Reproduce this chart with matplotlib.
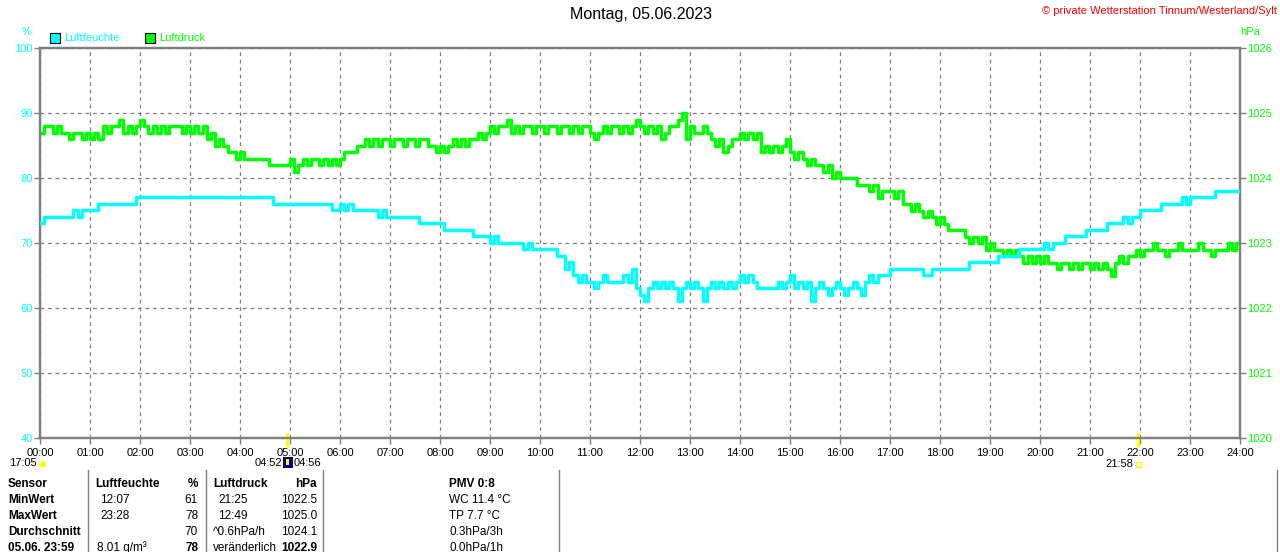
import matplotlib
matplotlib.use("Agg")
import matplotlib.pyplot as plt
import numpy as np
from matplotlib.lines import Line2D
from matplotlib.patches import Rectangle, Wedge

plt.rcParams['font.family'] = ['Liberation Sans', 'DejaVu Sans']

# ---------------- data ----------------
title = "Montag, 05.06.2023"
copyright_text = "\u00a9 private Wetterstation Tinnum/Westerland/Sylt"
hour_labels = ["%02d:00" % h for h in range(25)]
hum_ticks = [40, 50, 60, 70, 80, 90, 100]
pres_ticks = [1020, 1021, 1022, 1023, 1024, 1025, 1026]

# 5-minute samples from 00:00 to 24:00 (12 per hour + final)
humidity = [
    73, 74, 74, 74, 74, 74, 74, 74, 75, 74, 75, 75,
    75, 75, 76, 76, 76, 76, 76, 76, 76, 76, 76, 77,
    77, 77, 77, 77, 77, 77, 77, 77, 77, 77, 77, 77,
    77, 77, 77, 77, 77, 77, 77, 77, 77, 77, 77, 77,
    77, 77, 77, 77, 77, 77, 77, 77, 76, 76, 76, 76,
    76, 76, 76, 76, 76, 76, 76, 76, 76, 76, 75, 75,
    76, 75, 76, 75, 75, 75, 75, 75, 75, 74, 75, 74,
    74, 74, 74, 74, 74, 74, 74, 73, 73, 73, 73, 73,
    73, 72, 72, 72, 72, 72, 72, 72, 71, 71, 71, 71,
    70, 71, 70, 70, 70, 70, 70, 70, 69, 70, 69, 69,
    69, 69, 69, 69, 68, 68, 66, 67, 65, 64, 65, 64,
    64, 63, 64, 65, 64, 64, 64, 64, 65, 64, 66, 63,
    62, 61, 63, 64, 63, 64, 63, 64, 63, 61, 63, 64,
    63, 64, 63, 61, 63, 64, 63, 64, 63, 64, 63, 64,
    65, 64, 65, 64, 63, 63, 63, 63, 63, 64, 63, 64,
    65, 63, 64, 63, 64, 61, 63, 64, 63, 62, 63, 64,
    63, 62, 63, 64, 63, 62, 64, 65, 64, 65, 65, 65,
    66, 66, 66, 66, 66, 66, 66, 66, 65, 65, 66, 66,
    66, 66, 66, 66, 66, 66, 66, 67, 67, 67, 67, 67,
    67, 67, 68, 68, 68, 68, 68, 69, 69, 69, 69, 69,
    69, 70, 69, 70, 70, 70, 71, 71, 71, 71, 71, 72,
    72, 72, 72, 72, 73, 73, 73, 73, 74, 73, 74, 74,
    75, 75, 75, 75, 75, 76, 76, 76, 76, 76, 77, 76,
    77, 77, 77, 77, 77, 77, 78, 78, 78, 78, 78, 78,
    78,
]

pressure = [
    1024.7, 1024.8, 1024.8, 1024.7, 1024.8, 1024.7, 1024.7, 1024.6, 1024.7, 1024.7, 1024.6, 1024.7,
    1024.6, 1024.7, 1024.6, 1024.8, 1024.7, 1024.8, 1024.8, 1024.9, 1024.7, 1024.8, 1024.7, 1024.8,
    1024.9, 1024.8, 1024.7, 1024.8, 1024.7, 1024.8, 1024.7, 1024.8, 1024.8, 1024.8, 1024.7, 1024.8,
    1024.7, 1024.8, 1024.7, 1024.8, 1024.6, 1024.7, 1024.5, 1024.6, 1024.5, 1024.4, 1024.4, 1024.3,
    1024.4, 1024.3, 1024.3, 1024.3, 1024.3, 1024.3, 1024.3, 1024.2, 1024.2, 1024.2, 1024.2, 1024.2,
    1024.3, 1024.1, 1024.2, 1024.3, 1024.2, 1024.3, 1024.3, 1024.2, 1024.3, 1024.2, 1024.3, 1024.2,
    1024.3, 1024.4, 1024.4, 1024.4, 1024.5, 1024.5, 1024.6, 1024.5, 1024.6, 1024.5, 1024.6, 1024.6,
    1024.5, 1024.6, 1024.6, 1024.5, 1024.6, 1024.6, 1024.5, 1024.6, 1024.6, 1024.5, 1024.5, 1024.4,
    1024.5, 1024.4, 1024.5, 1024.6, 1024.5, 1024.6, 1024.5, 1024.6, 1024.6, 1024.7, 1024.6, 1024.7,
    1024.8, 1024.7, 1024.8, 1024.8, 1024.9, 1024.7, 1024.8, 1024.7, 1024.8, 1024.8, 1024.7, 1024.8,
    1024.8, 1024.7, 1024.8, 1024.8, 1024.7, 1024.8, 1024.8, 1024.7, 1024.8, 1024.7, 1024.8, 1024.8,
    1024.7, 1024.6, 1024.7, 1024.8, 1024.7, 1024.8, 1024.8, 1024.7, 1024.8, 1024.7, 1024.8, 1024.9,
    1024.8, 1024.7, 1024.8, 1024.7, 1024.8, 1024.6, 1024.7, 1024.8, 1024.8, 1024.9, 1025.0, 1024.6,
    1024.8, 1024.7, 1024.7, 1024.8, 1024.7, 1024.6, 1024.5, 1024.6, 1024.4, 1024.5, 1024.6, 1024.6,
    1024.7, 1024.6, 1024.7, 1024.6, 1024.7, 1024.4, 1024.5, 1024.4, 1024.5, 1024.4, 1024.5, 1024.6,
    1024.4, 1024.3, 1024.4, 1024.3, 1024.2, 1024.3, 1024.2, 1024.2, 1024.1, 1024.2, 1024.0, 1024.1,
    1024.0, 1024.0, 1024.0, 1024.0, 1023.9, 1023.9, 1023.9, 1023.8, 1023.9, 1023.7, 1023.8, 1023.8,
    1023.8, 1023.7, 1023.8, 1023.6, 1023.6, 1023.5, 1023.6, 1023.5, 1023.4, 1023.5, 1023.4, 1023.3,
    1023.4, 1023.3, 1023.2, 1023.2, 1023.2, 1023.2, 1023.1, 1023.0, 1023.1, 1023.0, 1023.1, 1022.9,
    1023.0, 1022.9, 1022.9, 1022.8, 1022.9, 1022.8, 1022.9, 1022.8, 1022.7, 1022.8, 1022.7, 1022.8,
    1022.7, 1022.8, 1022.7, 1022.7, 1022.6, 1022.7, 1022.7, 1022.6, 1022.7, 1022.6, 1022.7, 1022.7,
    1022.6, 1022.7, 1022.6, 1022.7, 1022.6, 1022.5, 1022.7, 1022.8, 1022.7, 1022.8, 1022.8, 1022.9,
    1022.8, 1022.9, 1022.9, 1023.0, 1022.9, 1022.9, 1022.8, 1022.9, 1022.9, 1023.0, 1022.9, 1022.9,
    1022.9, 1022.9, 1023.0, 1022.9, 1022.9, 1022.8, 1022.9, 1022.9, 1022.9, 1023.0, 1022.9, 1023.0,
    1022.9,
]
times = np.arange(len(humidity)) / 12.0

# sun / moon event markers
event_marks = [4 + 56 / 60, 21 + 58 / 60]

table_header = ["Sensor", "Luftfeuchte", "%", "Luftdruck", "hPa", "PMV 0:8"]
table_rows = [
    ["MinWert", "12:07", "61", "21:25", "1022.5", "WC 11.4 \u00b0C"],
    ["MaxWert", "23:28", "78", "12:49", "1025.0", "TP 7.7 \u00b0C"],
    ["Durchschnitt", "", "70", "^0.6hPa/h", "1024.1", "0.3hPa/3h"],
    ["05.06. 23:59", "8.01 g/m\u00b3", "78", "ver\u00e4nderlich", "1022.9", "0.0hPa/1h"],
]

# ---------------- style ----------------
CYAN = "#00FFFF"
GREEN = "#00FF00"
GRAY = "#808080"
W, H = 1280, 552

def fx(x):
    return x / W

def fy(y):
    return 1 - y / H

fig = plt.figure(figsize=(12.8, 5.52), dpi=100)
fig.patch.set_facecolor("white")
ax = fig.add_axes([fx(40), fy(438), fx(1240) - fx(40), fy(48) - fy(438)])
ax2 = ax.twinx()

# pressure on the bottom axes (right scale), humidity on top (left scale)
ax.plot(times, pressure, color=GREEN, lw=2.5, drawstyle="steps-post", zorder=3)
ax2.plot(times, humidity, color=CYAN, lw=2.5, drawstyle="steps-post", zorder=3)

ax.set_xlim(0, 24)
ax.set_ylim(1020, 1026)
ax2.set_ylim(40, 100)

ax.set_xticks(range(25))
ax.set_xticklabels(hour_labels, fontsize=8, color="black")
ax.yaxis.tick_right()
ax.set_yticks(pres_ticks)
ax.set_yticklabels([str(v) for v in pres_ticks], fontsize=8, color=GREEN)
ax2.yaxis.tick_left()
ax2.set_yticks(hum_ticks)
ax2.set_yticklabels([str(v) for v in hum_ticks], fontsize=8, color=CYAN)

for a in (ax, ax2):
    a.tick_params(axis="both", length=4, width=1, color=GRAY, pad=1)
    for s in a.spines.values():
        s.set_color(GRAY)
        s.set_linewidth(1.6)
ax.tick_params(axis="x", pad=3)

ax.grid(True, color=GRAY, linestyle=(0, (3, 3)), linewidth=0.9)
ax.set_axisbelow(True)

# texts above the plot
fig.text(fx(641), fy(15), title, ha="center", va="center", fontsize=11.5, color="black")
fig.text(fx(1277), fy(11), copyright_text, ha="right", va="center", fontsize=8, color="red")
fig.text(fx(27), fy(32), "%", ha="center", va="center", fontsize=8, color=CYAN)
fig.text(fx(1250), fy(32), "hPa", ha="center", va="center", fontsize=8, color=GREEN)

fig.patches.append(Rectangle((fx(50), fy(43)), fx(10), fy(33) - fy(43), facecolor=CYAN,
                             edgecolor="black", lw=0.8, transform=fig.transFigure, figure=fig))
fig.text(fx(64), fy(38), "Luftfeuchte", ha="left", va="center", fontsize=8, color=CYAN)
fig.patches.append(Rectangle((fx(145), fy(43)), fx(10), fy(33) - fy(43), facecolor=GREEN,
                             edgecolor="black", lw=0.8, transform=fig.transFigure, figure=fig))
fig.text(fx(159), fy(38), "Luftdruck", ha="left", va="center", fontsize=8, color=GREEN)

# event markers on x-axis
trans = ax.get_xaxis_transform()
for t in event_marks:
    ax.plot([t, t], [-0.022, 0.012], color="#FFFF00", lw=2.2, transform=trans,
            clip_on=False, zorder=5, solid_capstyle="butt")

fig.text(fx(37), fy(463), "17:05", ha="right", va="center", fontsize=8, color="black")
fig.patches.append(Rectangle((fx(39), fy(467)), fx(7), fy(463) - fy(467), facecolor="#FFFF00",
                             edgecolor="none", transform=fig.transFigure, figure=fig))
fig.patches.append(Rectangle((fx(40.5), fy(463)), fx(4), fy(461) - fy(463), facecolor="#FFFF00",
                             edgecolor="none", transform=fig.transFigure, figure=fig))
fig.text(fx(282), fy(463), "04:52", ha="right", va="center", fontsize=8, color="black")
fig.patches.append(Rectangle((fx(283), fy(468)), fx(10), fy(457) - fy(468), facecolor="#000080",
                             edgecolor="none", transform=fig.transFigure, figure=fig))
fig.patches.append(Rectangle((fx(286), fy(465)), fx(3), fy(459) - fy(465), facecolor="#FFFF00",
                             edgecolor="none", transform=fig.transFigure, figure=fig))
fig.text(fx(294), fy(463), "04:56", ha="left", va="center", fontsize=8, color="black")
fig.text(fx(1133), fy(464), "21:58", ha="right", va="center", fontsize=8, color="black")
fig.patches.append(Rectangle((fx(1136), fy(467)), fx(5), fy(462) - fy(467), facecolor="white",
                             edgecolor="#FFFF00", lw=1.0, transform=fig.transFigure, figure=fig))

# table
for xs in (88, 206, 323, 559, 1277):
    fig.lines.append(Line2D([fx(xs), fx(xs)], [fy(470), fy(552)], color=GRAY, lw=1,
                            transform=fig.transFigure, figure=fig))

col_x = [8, 95, 198, 213, 317, 449]
col_ha = ["left", "left", "right", "left", "right", "left"]
row_y = [484, 500, 516, 532, 548]
for j, txt in enumerate(table_header):
    fig.text(fx(col_x[j]), fy(row_y[0]), txt, ha=col_ha[j], va="center",
             fontsize=8.5, fontweight="bold", color="black")
for i, row in enumerate(table_rows):
    y = row_y[i + 1]
    last = (i == len(table_rows) - 1)
    for j, txt in enumerate(row):
        if not txt:
            continue
        x = col_x[j]
        if j in (1, 3) and i < 2:
            x += 5
        if j == 1 and i == 3:
            x = 97
        bold = (j == 0) or (last and j in (2, 4))
        fig.text(fx(x), fy(y), txt, ha=col_ha[j], va="center", fontsize=8.5,
                 fontweight="bold" if bold else "normal", color="black")

fig.savefig("out.png", dpi=100, facecolor="white")
